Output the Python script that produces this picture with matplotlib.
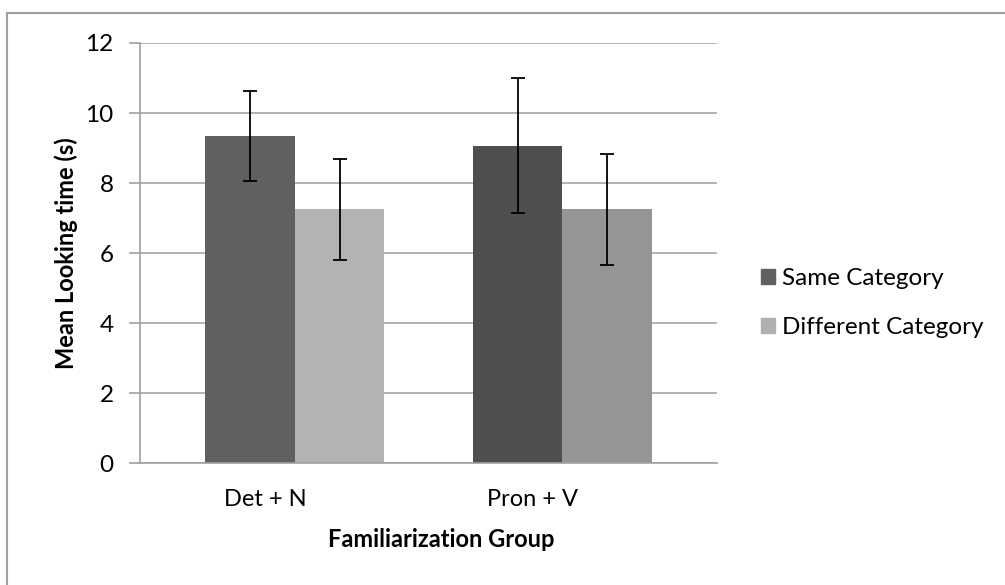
#!/usr/bin/env python3

import matplotlib
matplotlib.use('Agg')
import matplotlib.pyplot as plt
from matplotlib.lines import Line2D
from matplotlib.patches import Patch
import numpy as np

# Data
groups = ['Det + N', 'Pron + V']
series = ['Same Category', 'Different Category']
same_vals = [9.35, 9.07]
same_err = [1.29, 1.92]
diff_vals = [7.25, 7.25]
diff_err = [1.45, 1.59]
y_ticks = [0, 2, 4, 6, 8, 10, 12]


def main():

    plt.rcParams['font.family'] = ['Lato', 'DejaVu Sans']

    fig = plt.figure(figsize=(10.05, 5.85), dpi=100)
    ax = fig.add_axes([0.1393, 0.2085, 0.5741, 0.718])

    x = np.arange(len(groups))
    w = 0.335
    # each group uses slightly different greys in the original
    same_cols = ['#606060', '#4f4f4f']
    diff_cols = ['#b3b3b3', '#959595']

    ax.bar(x - w / 2, same_vals, w, color=same_cols, zorder=2)
    ax.bar(x + w / 2, diff_vals, w, color=diff_cols, zorder=2)
    err_kw = dict(fmt='none', ecolor='black', elinewidth=1.3,
                  capsize=4.8, capthick=1.3, zorder=3)
    ax.errorbar(x - w / 2, same_vals, yerr=same_err, **err_kw)
    ax.errorbar(x + w / 2, diff_vals, yerr=diff_err, **err_kw)

    ax.set_ylim(0, 12)
    ax.set_xlim(-0.579, 1.578)
    ax.set_yticks(y_ticks)
    # category labels sit a little left of the bar pairs, as in the original
    ax.set_xticks(x - 0.11)
    ax.set_xticklabels(groups)
    ax.yaxis.grid(True, color='#a6a6a6', linewidth=1.2, zorder=0)
    ax.set_axisbelow(True)

    for s in ['top', 'right']:
        ax.spines[s].set_visible(False)
    ax.spines['left'].set_color('#a0a0a0')
    ax.spines['bottom'].set_color('#a0a0a0')
    ax.spines['left'].set_linewidth(1.2)
    ax.spines['bottom'].set_linewidth(1.2)
    ax.tick_params(axis='y', length=8, color='#a0a0a0', width=1.2,
                   labelsize=17.5, pad=11)
    ax.tick_params(axis='x', length=0, labelsize=17, pad=19)

    ax.set_ylabel('Mean Looking time (s)', fontsize=17, fontweight='bold',
                  labelpad=5)
    ax.set_xlabel('Familiarization Group', fontsize=17, fontweight='bold',
                  labelpad=14)
    ax.xaxis.set_label_coords(0.522, -0.155)

    handles = [Patch(color='#606060'), Patch(color='#b0b0b0')]
    fig.legend(handles, series, loc='center left',
               bbox_to_anchor=(0.735, 0.482), frameon=False, fontsize=17.5,
               handlelength=0.6, handleheight=0.6, handletextpad=0.3,
               labelspacing=1.15)

    # chart area border (top and left only visible)
    fig.add_artist(Line2D([0.007, 1.0], [0.978, 0.978], color='#a0a0a0',
                          linewidth=1.5, transform=fig.transFigure))
    fig.add_artist(Line2D([0.007, 0.007], [0.0, 0.978], color='#a0a0a0',
                          linewidth=1.5, transform=fig.transFigure))

    fig.savefig('out.png', dpi=100)


if __name__ == "__main__":
    main()
